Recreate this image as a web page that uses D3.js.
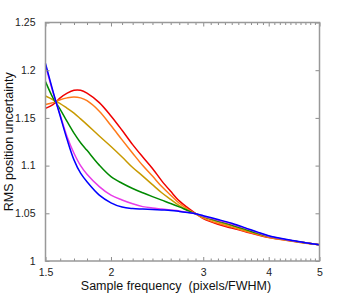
<!DOCTYPE html>
<html>
<head>
<meta charset="utf-8">
<script src="https://cdn.jsdelivr.net/npm/d3@7"></script>
<style>
  html, body { margin: 0; padding: 0; background: #fff; }
  svg { display: block; font-family: "Liberation Sans", Arial, sans-serif; }
  .axis path { display: none; }
  .axis line { stroke: #8c8c8c; stroke-width: 1; }
  .axis text { fill: #222; font-size: 10.5px; }
</style>
</head>
<body>
<div id="chart"></div>
<script>
// sample frequency (pixels/FWHM)
const freq = [1.5, 1.55, 1.6, 1.65, 1.7, 1.75, 1.8, 1.9, 2.0, 2.1, 2.2, 2.3, 2.4, 2.5,
              2.6, 2.7, 2.8, 2.9, 3.0, 3.2, 3.4, 3.6, 3.8, 4.0, 4.5, 5.0];

const redVals     = [1.160, 1.164, 1.171, 1.176, 1.179, 1.179, 1.176, 1.166, 1.152, 1.137, 1.122, 1.109, 1.097, 1.084,
                     1.073, 1.063, 1.056, 1.050, 1.0445, 1.0385, 1.0345, 1.031, 1.0275, 1.0245, 1.0205, 1.017];
const orangeVals  = [1.164, 1.166, 1.169, 1.171, 1.172, 1.171, 1.168, 1.157, 1.142, 1.127, 1.113, 1.100, 1.089, 1.078,
                     1.069, 1.0605, 1.0545, 1.0495, 1.045, 1.0395, 1.0355, 1.0315, 1.028, 1.025, 1.0202, 1.017];
const goldVals    = [1.173, 1.169, 1.165, 1.160, 1.155, 1.149, 1.143, 1.131, 1.120, 1.109, 1.098, 1.089, 1.080, 1.0715,
                     1.0645, 1.058, 1.053, 1.0495, 1.046, 1.041, 1.0368, 1.0325, 1.0285, 1.0253, 1.0204, 1.017];
const greenVals   = [1.188, 1.171, 1.159, 1.146, 1.134, 1.124, 1.116, 1.1005, 1.0885, 1.0815, 1.076, 1.0715, 1.0675, 1.0638,
                     1.0603, 1.0567, 1.053, 1.0495, 1.0465, 1.042, 1.0378, 1.0335, 1.0293, 1.0258, 1.0206, 1.017];
const magentaVals = [1.205, 1.177, 1.153, 1.130, 1.113, 1.100, 1.091, 1.078, 1.069, 1.064, 1.060, 1.057, 1.0555, 1.0545,
                     1.0535, 1.0525, 1.051, 1.0495, 1.047, 1.0428, 1.0388, 1.0345, 1.030, 1.026, 1.0208, 1.017];
const blueVals    = [1.207, 1.178, 1.152, 1.127, 1.106, 1.092, 1.083, 1.069, 1.061, 1.0565, 1.055, 1.0545, 1.054, 1.0535,
                     1.053, 1.052, 1.0508, 1.0495, 1.0475, 1.0435, 1.0395, 1.035, 1.0305, 1.0265, 1.021, 1.017];

const seriesList = [
  { name: "red", values: redVals, color: "#f00000" },
  { name: "orange", values: orangeVals, color: "#ff7a1a" },
  { name: "gold", values: goldVals, color: "#c89a00" },
  { name: "green", values: greenVals, color: "#008a00" },
  { name: "magenta", values: magentaVals, color: "#e83ce8" },
  { name: "blue", values: blueVals, color: "#0000ff" }
];

const xMajor = [1.5, 2, 3, 4, 5];
const xMinor = [1.6, 1.7, 1.8, 1.9,
                2.1, 2.2, 2.3, 2.4, 2.5, 2.6, 2.7, 2.8, 2.9,
                3.1, 3.2, 3.3, 3.4, 3.5, 3.6, 3.7, 3.8, 3.9,
                4.1, 4.2, 4.3, 4.4, 4.5, 4.6, 4.7, 4.8, 4.9];
const yTicks = [1, 1.05, 1.1, 1.15, 1.2, 1.25];

const W = 353, H = 294;
const plot = { left: 45.5, right: 319.5, top: 22.5, bottom: 261 };

const svg = d3.select("#chart").append("svg")
  .attr("width", W)
  .attr("height", H);

const x = d3.scaleLog().domain([1.5, 5]).range([plot.left, plot.right]);
const y = d3.scaleLinear().domain([1, 1.25]).range([plot.bottom, plot.top]);

// curves
const line = d3.line()
  .x(d => x(d[0]))
  .y(d => y(d[1]))
  .curve(d3.curveCatmullRom.alpha(0.5));

svg.append("g").selectAll("path")
  .data(seriesList)
  .enter()
  .append("path")
  .attr("fill", "none")
  .attr("stroke", d => d.color)
  .attr("stroke-width", 1.5)
  .attr("d", d => line(freq.map((f, i) => [f, d.values[i]])));

// axes, ticks pointing inward
svg.append("g").attr("class", "axis")
  .attr("transform", `translate(0,${plot.bottom})`)
  .call(d3.axisBottom(x).tickValues(xMinor).tickSize(-2.5).tickFormat(""));
svg.append("g").attr("class", "axis")
  .attr("transform", `translate(0,${plot.bottom})`)
  .call(d3.axisBottom(x).tickValues(xMajor).tickSize(-4).tickPadding(8).tickFormat(d => String(d)));
svg.append("g").attr("class", "axis")
  .attr("transform", `translate(0,${plot.top})`)
  .call(d3.axisTop(x).tickValues(xMinor).tickSize(-2.5).tickFormat(""));
svg.append("g").attr("class", "axis")
  .attr("transform", `translate(0,${plot.top})`)
  .call(d3.axisTop(x).tickValues(xMajor).tickSize(-4).tickFormat(""));

svg.append("g").attr("class", "axis")
  .attr("transform", `translate(${plot.left},0)`)
  .call(d3.axisLeft(y).tickValues(yTicks).tickSize(-4).tickPadding(10).tickFormat(d => String(d)));
svg.append("g").attr("class", "axis")
  .attr("transform", `translate(${plot.right},0)`)
  .call(d3.axisRight(y).tickValues(yTicks).tickSize(-4).tickFormat(""));

// frame
svg.append("rect")
  .attr("x", plot.left)
  .attr("y", plot.top)
  .attr("width", plot.right - plot.left)
  .attr("height", plot.bottom - plot.top)
  .attr("fill", "none")
  .attr("stroke", "#999")
  .attr("stroke-width", 1.5);

svg.append("text")
  .attr("x", 176)
  .attr("y", 290)
  .attr("text-anchor", "middle")
  .attr("font-size", "12.5px")
  .attr("fill", "#111")
  .style("white-space", "pre")
  .text("Sample frequency  (pixels/FWHM)");

svg.append("text")
  .attr("transform", `translate(13,${(plot.top + plot.bottom) / 2}) rotate(-90)`)
  .attr("text-anchor", "middle")
  .attr("font-size", "12.5px")
  .attr("fill", "#111")
  .text("RMS position uncertainty");
</script>
</body>
</html>
